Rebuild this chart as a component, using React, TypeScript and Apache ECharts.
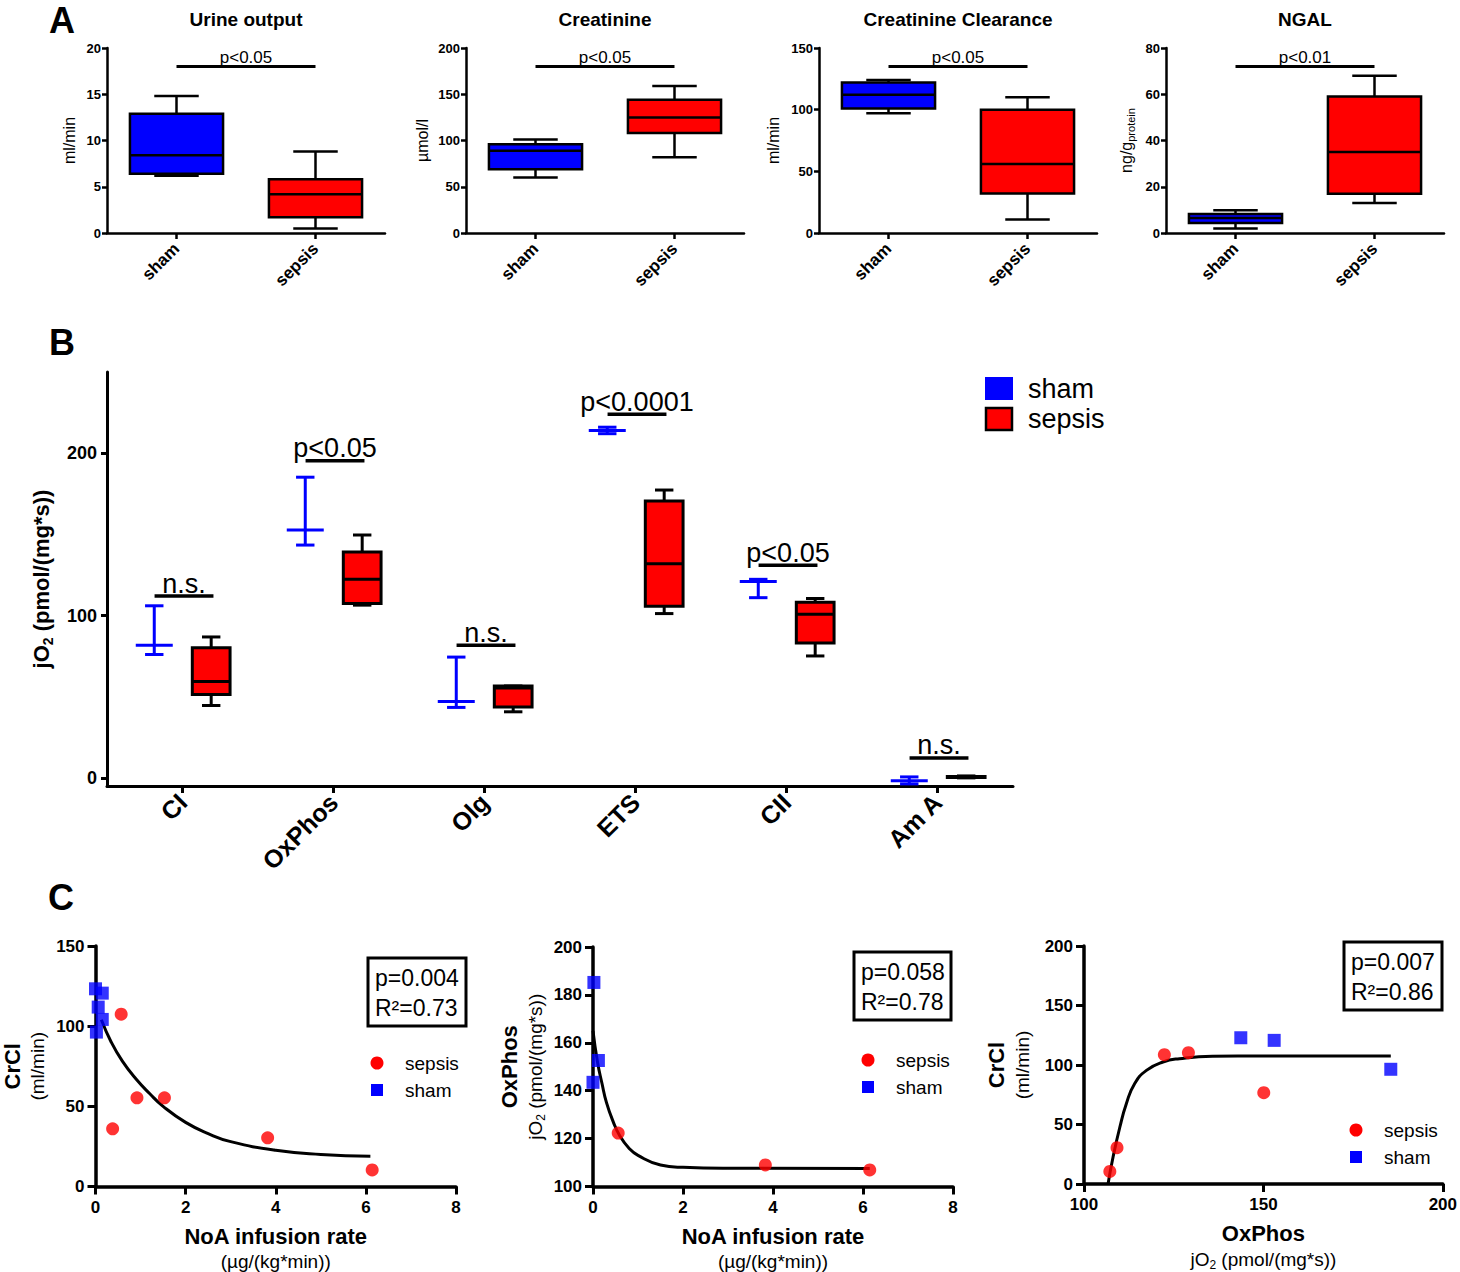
import React, { useEffect, useRef } from 'react';
import * as echarts from 'echarts';

const FONT = "'Liberation Sans', Arial, Helvetica, sans-serif";
const BLUE = '#0000ff';
const RED = '#ff0000';
const BLACK = '#000000';

// ---------------- Panel A ----------------
const groupsA = ['sham', 'sepsis'];
const titlesA = ['Urine output', 'Creatinine', 'Creatinine Clearance', 'NGAL'];
const unitsA = ['ml/min', 'µmol/l', 'ml/min', '{u|ng/g}{s|protein}'];
const yMaxA = [20, 200, 150, 80];
const yStepA = [5, 50, 50, 20];
// [min, Q1, median, Q3, max]
const urineSham = [6.2, 6.4, 8.4, 12.9, 14.8];
const urineSepsis = [0.5, 1.7, 4.2, 5.8, 8.8];
const creatSham = [60, 69, 89, 96, 101];
const creatSepsis = [82, 108, 125, 144, 159];
const crclSham = [97, 101, 112, 122, 124];
const crclSepsis = [11, 32, 56, 100, 110];
const ngalSham = [2, 4.3, 6.5, 8.2, 9.8];
const ngalSepsis = [13, 17, 35, 59, 68];
const shamA = [urineSham, creatSham, crclSham, ngalSham];
const sepsisA = [urineSepsis, creatSepsis, crclSepsis, ngalSepsis];
const sigValueA = [18, 180, 135, 72];
const sigTextA = ['p<0.05', 'p<0.05', 'p<0.05', 'p<0.01'];

// ---------------- Panel B ----------------
const statesB = ['CI', 'OxPhos', 'Olg', 'ETS', 'CII', 'Am A'];
const yTicksB = [0, 100, 200];
// [min, Q1, median, Q3, max] per state
const shamB = [
  [76, 81.7, 81.7, 81.7, 106],
  [143.4, 152.7, 152.7, 152.7, 185.2],
  [43.4, 47.1, 47.1, 47.1, 74.4],
  [212, 214, 214, 214, 216],
  [111, 121, 121, 121, 122.3],
  [-3.7, -1.7, -1.7, -1.7, 0.6],
];
const sepsisB = [
  [44.6, 51.4, 59.4, 80.2, 86.8],
  [106.4, 107.4, 122.4, 139.1, 149.6],
  [40.7, 43.6, 55.3, 56.6, 56.6],
  [101.2, 105.7, 131.9, 170.6, 177.3],
  [75.1, 83.1, 100.8, 108.2, 110.5],
  [0, 0.2, 0.5, 0.9, 1.2],
];
const sigValueB = [112, 195.4, 81.7, 224, 131, 12.3];
const sigTextB = ['n.s.', 'p<0.05', 'n.s.', 'p<0.0001', 'p<0.05', 'n.s.'];

// ---------------- Panel C ----------------
// C1: CrCl vs NoA infusion rate
const c1ShamX = [0, 0.15, 0.06, 0.15, 0.02];
const c1ShamY = [123.3, 120.6, 111.9, 104.2, 96.3];
const c1SepsisX = [0.57, 0.38, 0.92, 1.53, 3.82, 6.14];
const c1SepsisY = [107.5, 36, 55.3, 55.3, 30.4, 10.3];
const c1FitX = [0.13, 0.35, 0.6, 0.9, 1.2, 1.5, 2, 2.5, 3, 4, 5, 6.1];
const c1FitY = [104, 90, 78, 67, 58, 50, 40, 33, 28, 22.6, 20, 18.8];
// C2: OxPhos vs NoA infusion rate
const c2ShamX = [0.02, 0.12, 0];
const c2ShamY = [185.2, 152.6, 143.5];
const c2SepsisX = [0.56, 3.83, 6.15];
const c2SepsisY = [122.3, 109, 106.9];
const c2FitX = [0, 0.1, 0.2, 0.3, 0.45, 0.6, 0.8, 1, 1.5, 2, 3, 6.15];
const c2FitY = [165, 152, 143, 135, 127, 121, 116, 113, 109, 108, 107.6, 107.5];
// C3: CrCl vs OxPhos
const c3ShamX = [143.7, 153, 185.5];
const c3ShamY = [122.9, 120.7, 96.4];
const c3SepsisX = [107.2, 109.2, 122.4, 129.1, 150.1];
const c3SepsisY = [10.6, 30.5, 108.7, 110.3, 76.7];
const c3FitX = [106.7, 108.1, 110, 111.8, 114.1, 117.4, 122, 126.6, 135.8, 150, 185.5];
const c3FitY = [0, 22.7, 47.9, 67.5, 84.3, 95.5, 102.5, 105.3, 107.3, 107.5, 107.5];
const statsC = [['p=0.004', 'R²=0.73'], ['p=0.058', 'R²=0.78'], ['p=0.007', 'R²=0.86']];
const legendC = ['sepsis', 'sham'];

const zip = (xs: number[], ys: number[]) => xs.map((x, i) => [x, ys[i]]);

type BoxStyle = { fill: string; stroke: string; boxFrac: number; capFrac: number; offset: number; lw: number };

function boxRenderer(s: BoxStyle) {
  return (params: any, api: any) => {
    const cat = api.value(0);
    const band = api.size([1, 0])[0];
    const base = api.coord([cat, api.value(3)]);
    const cx = base[0] + s.offset * band;
    const yv = (i: number) => api.coord([cat, api.value(i)])[1];
    const yMin = yv(1), yQ1 = yv(2), yMed = yv(3), yQ3 = yv(4), yMax = yv(5);
    const bw = s.boxFrac * band;
    const cw = s.capFrac * band;
    const ls = { stroke: s.stroke, lineWidth: s.lw, fill: 'none' };
    const children: any[] = [
      { type: 'line', shape: { x1: cx, y1: yMax, x2: cx, y2: yMin }, style: ls },
      { type: 'line', shape: { x1: cx - cw / 2, y1: yMax, x2: cx + cw / 2, y2: yMax }, style: ls },
      { type: 'line', shape: { x1: cx - cw / 2, y1: yMin, x2: cx + cw / 2, y2: yMin }, style: ls },
    ];
    if (yQ1 - yQ3 > 1) {
      children.push({
        type: 'rect',
        shape: { x: cx - bw / 2, y: yQ3, width: bw, height: yQ1 - yQ3 },
        style: { fill: s.fill, stroke: s.stroke, lineWidth: s.lw },
      });
    }
    children.push({ type: 'line', shape: { x1: cx - bw / 2, y1: yMed, x2: cx + bw / 2, y2: yMed }, style: ls });
    return { type: 'group', children };
  };
}

function sigRenderer(labels: string[], a: number, b: number, fontSize: number, lw: number, dy: number) {
  return (params: any, api: any) => {
    const band = api.size([1, 0])[0];
    const p0 = api.coord([api.value(0), api.value(2)]);
    const p1 = api.coord([api.value(1), api.value(2)]);
    const x0 = p0[0] + a * band;
    const x1 = p1[0] + b * band;
    return {
      type: 'group',
      children: [
        { type: 'line', shape: { x1: x0, y1: p0[1], x2: x1, y2: p0[1] }, style: { stroke: BLACK, lineWidth: lw } },
        {
          type: 'text',
          x: (x0 + x1) / 2,
          y: p0[1] + dy,
          style: { text: labels[params.dataIndex], fontSize, fontFamily: FONT, fill: BLACK, align: 'center', verticalAlign: 'bottom' },
        },
      ],
    };
  };
}

function buildOption() {
  const gridLeftA = [107, 466, 819, 1166];
  const grids: any[] = [
    ...gridLeftA.map((left) => ({ left, top: 48, width: 278, height: 185 })),
    { left: 107, top: 372, width: 906, height: 414 },
    { left: 94, top: 946, width: 362, height: 241 },
    { left: 593, top: 947, width: 360, height: 240 },
    { left: 1084, top: 946, width: 361, height: 241 },
  ];

  const axisLine = (w: number) => ({ show: true, onZero: false, lineStyle: { color: BLACK, width: w } });
  const axisTick = (len: number, w: number) => ({ show: true, length: len, lineStyle: { color: BLACK, width: w } });
  const boldLabel = (size: number, margin: number, extra: any = {}) => ({
    fontSize: size, fontWeight: 'bold', color: BLACK, fontFamily: FONT, margin, ...extra,
  });

  const xAxes: any[] = [];
  const yAxes: any[] = [];
  const nameGapA = [30, 36, 38, 30];
  for (let i = 0; i < 4; i++) {
    xAxes.push({
      type: 'category', gridIndex: i, data: groupsA,
      axisLine: axisLine(2.5),
      axisTick: { ...axisTick(6, 2.5), alignWithLabel: true },
      axisLabel: boldLabel(17, 13, { rotate: 45, interval: 0 }),
      splitLine: { show: false },
    });
    yAxes.push({
      type: 'value', gridIndex: i, min: 0, max: yMaxA[i], interval: yStepA[i],
      axisLine: axisLine(2.5), axisTick: axisTick(5, 2.5),
      axisLabel: boldLabel(13, 6), splitLine: { show: false },
      name: unitsA[i], nameLocation: 'middle', nameGap: nameGapA[i],
      nameTextStyle: {
        fontSize: 16, color: BLACK, fontFamily: FONT,
        rich: {
          u: { fontSize: 16, fontFamily: FONT, color: BLACK, lineHeight: 20, verticalAlign: 'middle' },
          s: { fontSize: 11, fontFamily: FONT, color: BLACK, lineHeight: 11, verticalAlign: 'bottom' },
        },
      },
    });
  }
  // B
  xAxes.push({
    type: 'category', gridIndex: 4, data: statesB,
    axisLine: axisLine(3), axisTick: { ...axisTick(7, 3), alignWithLabel: true },
    axisLabel: boldLabel(25, 12, { rotate: 45, interval: 0 }), splitLine: { show: false },
  });
  yAxes.push({
    type: 'value', gridIndex: 4, min: -5, max: 250,
    axisLine: axisLine(3),
    axisTick: { ...axisTick(6, 3), customValues: yTicksB },
    axisLabel: boldLabel(18, 10, { customValues: yTicksB }),
    splitLine: { show: false },
    name: '{b|jO}{s|2}{b| (pmol/(mg*s))}', nameLocation: 'middle', nameGap: 52,
    nameTextStyle: {
      rich: {
        b: { fontSize: 22, fontWeight: 'bold', fontFamily: FONT, color: BLACK, lineHeight: 28, verticalAlign: 'middle' },
        s: { fontSize: 14, fontWeight: 'bold', fontFamily: FONT, color: BLACK, lineHeight: 14, verticalAlign: 'bottom' },
      },
    },
  });
  // C
  const richC = {
    b: { fontSize: 22, fontWeight: 'bold', fontFamily: FONT, color: BLACK, lineHeight: 27, verticalAlign: 'middle' },
    r: { fontSize: 19, fontFamily: FONT, color: BLACK, lineHeight: 24, verticalAlign: 'middle' },
    rs: { fontSize: 12, fontFamily: FONT, color: BLACK, lineHeight: 12, verticalAlign: 'bottom' },
  };
  const cX = [
    { min: 0, max: 8, interval: 2, name: '{b|NoA infusion rate}\n{r|(µg/(kg*min))}' },
    { min: 0, max: 8, interval: 2, name: '{b|NoA infusion rate}\n{r|(µg/(kg*min))}' },
    { min: 100, max: 200, interval: 50, name: '{b|OxPhos}\n{r|jO}{rs|2}{r| (pmol/(mg*s))}' },
  ];
  const cY = [
    { min: 0, max: 150, interval: 50, name: '{b|CrCl}\n{r|(ml/min)}', gap: 46 },
    { min: 100, max: 200, interval: 20, name: '{b|OxPhos}\n{r|jO}{rs|2}{r| (pmol/(mg*s))}', gap: 46 },
    { min: 0, max: 200, interval: 50, name: '{b|CrCl}\n{r|(ml/min)}', gap: 50 },
  ];
  for (let i = 0; i < 3; i++) {
    xAxes.push({
      type: 'value', gridIndex: 5 + i, min: cX[i].min, max: cX[i].max, interval: cX[i].interval,
      axisLine: axisLine(3.5), axisTick: axisTick(8, 3), axisLabel: boldLabel(17, 12),
      splitLine: { show: false },
      name: cX[i].name, nameLocation: 'middle', nameGap: 36, nameTextStyle: { rich: richC },
    });
    yAxes.push({
      type: 'value', gridIndex: 5 + i, min: cY[i].min, max: cY[i].max, interval: cY[i].interval,
      axisLine: axisLine(3.5), axisTick: axisTick(8, 3), axisLabel: boldLabel(17, 11),
      splitLine: { show: false },
      name: cY[i].name, nameLocation: 'middle', nameGap: cY[i].gap, nameTextStyle: { rich: richC },
    });
  }

  const series: any[] = [];
  // Panel A boxes
  for (let i = 0; i < 4; i++) {
    series.push({
      type: 'custom', coordinateSystem: 'cartesian2d', xAxisIndex: i, yAxisIndex: i,
      renderItem: boxRenderer({ fill: BLUE, stroke: BLACK, boxFrac: 0.67, capFrac: 0.32, offset: 0, lw: 2.5 }),
      encode: { x: 0, y: [1, 2, 3, 4, 5] },
      data: [[0, ...shamA[i]]],
    });
    series.push({
      type: 'custom', coordinateSystem: 'cartesian2d', xAxisIndex: i, yAxisIndex: i,
      renderItem: boxRenderer({ fill: RED, stroke: BLACK, boxFrac: 0.67, capFrac: 0.32, offset: 0, lw: 2.5 }),
      encode: { x: 0, y: [1, 2, 3, 4, 5] },
      data: [[1, ...sepsisA[i]]],
    });
    series.push({
      type: 'custom', coordinateSystem: 'cartesian2d', xAxisIndex: i, yAxisIndex: i,
      renderItem: sigRenderer([sigTextA[i]], 0, 0, 17, 3, -1),
      encode: { x: [0, 1], y: 2 },
      data: [[0, 1, sigValueA[i]]],
    });
  }
  // Panel B
  series.push({
    type: 'custom', coordinateSystem: 'cartesian2d', xAxisIndex: 4, yAxisIndex: 4,
    renderItem: boxRenderer({ fill: 'none', stroke: BLUE, boxFrac: 0.245, capFrac: 0.122, offset: -0.187, lw: 3 }),
    encode: { x: 0, y: [1, 2, 3, 4, 5] },
    data: shamB.map((v, i) => [i, ...v]),
  });
  series.push({
    type: 'custom', coordinateSystem: 'cartesian2d', xAxisIndex: 4, yAxisIndex: 4,
    renderItem: boxRenderer({ fill: RED, stroke: BLACK, boxFrac: 0.25, capFrac: 0.122, offset: 0.19, lw: 3 }),
    encode: { x: 0, y: [1, 2, 3, 4, 5] },
    data: sepsisB.map((v, i) => [i, ...v]),
  });
  series.push({
    type: 'custom', coordinateSystem: 'cartesian2d', xAxisIndex: 4, yAxisIndex: 4,
    renderItem: sigRenderer(sigTextB, -0.185, 0.205, 27, 3.5, 1),
    encode: { x: [0, 1], y: 2 },
    data: sigValueB.map((v, i) => [i, i, v]),
  });
  // Panel C
  const cData = [
    { sx: c1SepsisX, sy: c1SepsisY, hx: c1ShamX, hy: c1ShamY, fx: c1FitX, fy: c1FitY },
    { sx: c2SepsisX, sy: c2SepsisY, hx: c2ShamX, hy: c2ShamY, fx: c2FitX, fy: c2FitY },
    { sx: c3SepsisX, sy: c3SepsisY, hx: c3ShamX, hy: c3ShamY, fx: c3FitX, fy: c3FitY },
  ];
  cData.forEach((d, i) => {
    const ax = 5 + i;
    series.push({
      type: 'line', xAxisIndex: ax, yAxisIndex: ax, data: zip(d.fx, d.fy),
      showSymbol: false, smooth: 0.5,
      lineStyle: { color: BLACK, width: 3 }, z: 2, silent: true,
    });
    series.push({
      type: 'scatter', xAxisIndex: ax, yAxisIndex: ax, data: zip(d.sx, d.sy),
      symbol: 'circle', symbolSize: 13, itemStyle: { color: RED }, z: 3,
    });
    series.push({
      type: 'scatter', xAxisIndex: ax, yAxisIndex: ax, data: zip(d.hx, d.hy),
      symbol: 'rect', symbolSize: 13, itemStyle: { color: BLUE }, z: 3,
    });
  });

  // Graphics
  const text = (t: string, x: number, y: number, size: number, bold = false, align = 'center') => ({
    type: 'text', x, y,
    style: { text: t, fontSize: size, fontWeight: bold ? 'bold' : 'normal', fontFamily: FONT, fill: BLACK, align, verticalAlign: 'middle' },
  });
  const graphic: any[] = [
    text('A', 62, 20, 36, true),
    text('B', 62, 342, 36, true),
    text('C', 61, 897, 36, true),
    ...titlesA.map((t, i) => text(t, gridLeftA[i] + 139, 19, 19, true)),
    { type: 'rect', shape: { x: 985, y: 377, width: 28, height: 23 }, style: { fill: BLUE } },
    { type: 'rect', shape: { x: 986, y: 408, width: 26, height: 22 }, style: { fill: RED, stroke: BLACK, lineWidth: 2.5 } },
    text('sham', 1028, 389, 27, false, 'left'),
    text('sepsis', 1028, 419, 27, false, 'left'),
  ];
  const boxesC = [
    { x: 368, y: 958, w: 98, h: 68 },
    { x: 854, y: 952, w: 97, h: 68 },
    { x: 1344, y: 942, w: 98, h: 68 },
  ];
  const legendPosC = [
    { x: 377, y: 1063 },
    { x: 868, y: 1060 },
    { x: 1356, y: 1130 },
  ];
  boxesC.forEach((b, i) => {
    graphic.push({ type: 'rect', shape: { x: b.x, y: b.y, width: b.w, height: b.h }, style: { fill: '#fff', stroke: BLACK, lineWidth: 3 } });
    graphic.push(text(statsC[i][0], b.x + 7, b.y + 20, 23, false, 'left'));
    graphic.push(text(statsC[i][1], b.x + 7, b.y + 50, 23, false, 'left'));
    const l = legendPosC[i];
    graphic.push({ type: 'circle', shape: { cx: l.x, cy: l.y, r: 6.5 }, style: { fill: RED } });
    graphic.push({ type: 'rect', shape: { x: l.x - 6, y: l.y + 27 - 6, width: 12, height: 12 }, style: { fill: BLUE } });
    graphic.push(text(legendC[0], l.x + 28, l.y, 19, false, 'left'));
    graphic.push(text(legendC[1], l.x + 28, l.y + 27, 19, false, 'left'));
  });

  return {
    animation: false,
    backgroundColor: '#ffffff',
    textStyle: { fontFamily: FONT },
    grid: grids,
    xAxis: xAxes,
    yAxis: yAxes,
    series,
    graphic,
  };
}

export default function App() {
  const ref = useRef<HTMLDivElement>(null);
  useEffect(() => {
    document.body.style.margin = '0';
    const chart = echarts.init(ref.current as HTMLDivElement, null, { renderer: 'svg' });
    chart.setOption(buildOption() as any);
    return () => chart.dispose();
  }, []);
  return <div ref={ref} style={{ width: 1460, height: 1272 }} />;
}
